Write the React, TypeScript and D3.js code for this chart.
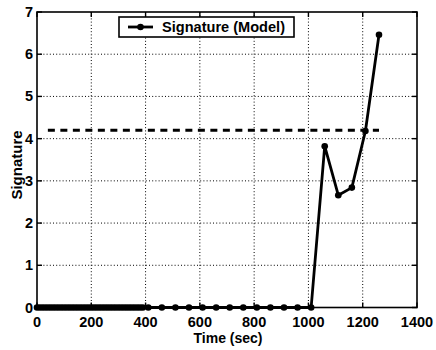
import React from "react";
import * as d3 from "d3";

// Sampling times (sec): dense sampling early on, then every 50 s
const denseTimes: number[] = [
  0, 10, 20, 30, 40, 50, 60, 70, 80, 90, 100, 110, 120, 130, 140, 150, 160, 170, 180, 190,
  200, 210, 220, 230, 240, 250, 260, 270, 280, 290, 300, 310, 320, 330, 340, 350, 360, 370, 380, 390,
];
const sparseTimes: number[] = [
  410, 460, 510, 560, 610, 660, 710, 760, 810, 860, 910, 960, 1010, 1060, 1110, 1160, 1210, 1260,
];
const denseValues: number[] = denseTimes.map(() => 0);
const sparseValues: number[] = [
  0, 0, 0, 0, 0, 0, 0, 0, 0, 0, 0, 0, 0, 3.82, 2.66, 2.84, 4.18, 6.46,
];

const thresholdValue = 4.2;
const thresholdSpan: number[] = [40, 1260];

const xTicks: number[] = [0, 200, 400, 600, 800, 1000, 1200, 1400];
const yTicks: number[] = [0, 1, 2, 3, 4, 5, 6, 7];

const seriesLabel = "Signature (Model)";
const xLabel = "Time (sec)";
const yLabel = "Signature";

const W = 436;
const H = 350;
const plot = { left: 37, top: 12, right: 417, bottom: 307.5 };
const font = "'Liberation Sans', Arial, Helvetica, sans-serif";

export default function App() {
  const x = d3.scaleLinear().domain([0, 1400]).range([plot.left, plot.right]);
  const y = d3.scaleLinear().domain([0, 7]).range([plot.bottom, plot.top]);

  const times = [...denseTimes, ...sparseTimes];
  const values = [...denseValues, ...sparseValues];
  const pts: [number, number][] = times.map((t, i) => [t, values[i]]);

  const line = d3
    .line<[number, number]>()
    .x((d) => x(d[0]))
    .y((d) => y(d[1]));

  const tickLen = 5;

  return (
    <svg
      width={W}
      height={H}
      style={{ position: "absolute", left: 0, top: 0, background: "#fff" }}
      fontFamily={font}
    >
      <rect x={0} y={0} width={W} height={H} fill="#fff" />

      {/* grid */}
      <g stroke="#000" strokeWidth={1} strokeDasharray="1,2.2">
        {xTicks.slice(1, -1).map((t) => (
          <line key={"gx" + t} x1={x(t)} x2={x(t)} y1={plot.top} y2={plot.bottom} />
        ))}
        {yTicks.slice(1, -1).map((t) => (
          <line key={"gy" + t} x1={plot.left} x2={plot.right} y1={y(t)} y2={y(t)} />
        ))}
      </g>

      {/* threshold */}
      <line
        x1={x(thresholdSpan[0])}
        x2={x(thresholdSpan[1])}
        y1={y(thresholdValue)}
        y2={y(thresholdValue)}
        stroke="#000"
        strokeWidth={3}
        strokeDasharray="7,5.5"
      />

      {/* series */}
      <path d={line(pts) || ""} fill="none" stroke="#000" strokeWidth={2.8} strokeLinejoin="round" />
      {pts.map((d, i) => (
        <circle key={i} cx={x(d[0])} cy={y(d[1])} r={3.3} fill="#000" />
      ))}

      {/* axes box + inward ticks */}
      <rect
        x={plot.left}
        y={plot.top}
        width={plot.right - plot.left}
        height={plot.bottom - plot.top}
        fill="none"
        stroke="#000"
        strokeWidth={1.6}
      />
      <g stroke="#000" strokeWidth={1.4}>
        {xTicks.map((t) => (
          <g key={"tx" + t}>
            <line x1={x(t)} x2={x(t)} y1={plot.bottom} y2={plot.bottom - tickLen} />
            <line x1={x(t)} x2={x(t)} y1={plot.top} y2={plot.top + tickLen} />
          </g>
        ))}
        {yTicks.map((t) => (
          <g key={"ty" + t}>
            <line x1={plot.left} x2={plot.left + tickLen} y1={y(t)} y2={y(t)} />
            <line x1={plot.right} x2={plot.right - tickLen} y1={y(t)} y2={y(t)} />
          </g>
        ))}
      </g>

      {/* tick labels */}
      <g fontSize={14.5} fontWeight="bold" fill="#000">
        {xTicks.map((t) => (
          <text key={"lx" + t} x={x(t)} y={326.5} textAnchor="middle">
            {t}
          </text>
        ))}
        {yTicks.map((t) => (
          <text key={"ly" + t} x={33} y={y(t) + 5} textAnchor="end">
            {t}
          </text>
        ))}
      </g>

      {/* axis labels */}
      <text x={228} y={343} textAnchor="middle" fontSize={14} fontWeight="bold">
        {xLabel}
      </text>
      <text
        transform={`translate(21.5,165) rotate(-90)`}
        textAnchor="middle"
        fontSize={15}
        fontWeight="bold"
      >
        {yLabel}
      </text>

      {/* legend */}
      <g>
        <rect x={119} y={17} width={175} height={20} fill="#fff" stroke="#000" strokeWidth={1.6} />
        <line x1={128} x2={153} y1={27} y2={27} stroke="#000" strokeWidth={2.8} />
        <circle cx={140.5} cy={27} r={3.3} fill="#000" />
        <text x={162} y={32.2} fontSize={14.3} fontWeight="bold" textLength={123} lengthAdjust="spacingAndGlyphs">
          {seriesLabel}
        </text>
      </g>
    </svg>
  );
}
